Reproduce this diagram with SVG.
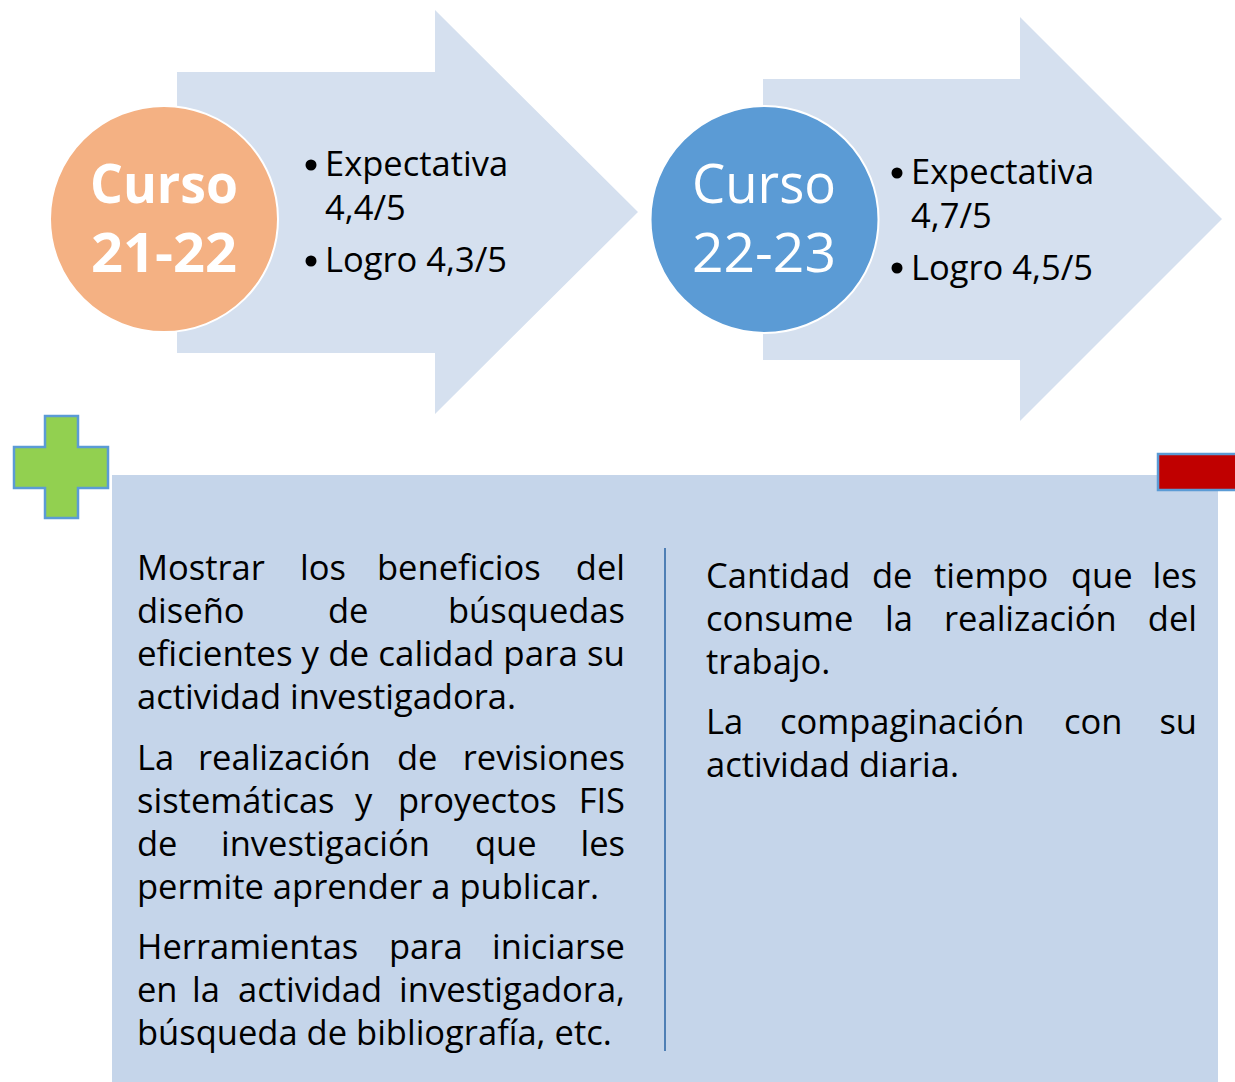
<svg xmlns="http://www.w3.org/2000/svg" width="1235" height="1082" viewBox="0 0 1235 1082">
<style>
.arrow{fill:#D5E0EF;}
.t{font-family:"Open Sans","Noto Sans",sans-serif;font-size:34.5px;fill:#000;}
.e{text-anchor:end;}
.c1{font-family:"Open Sans","Noto Sans",sans-serif;font-size:54px;font-weight:bold;fill:#fff;}
.c2{font-family:"Open Sans","Noto Sans",sans-serif;font-size:54px;fill:#fff;}
</style>
<rect width="1235" height="1082" fill="#fff"/>
<g id="arrow1">
<polygon class="arrow" points="177,72 435,72 435,10 638,212 435,414 435,353 177,353"/>
<ellipse cx="164" cy="219" rx="114" ry="113" fill="#F4B183" stroke="#fff" stroke-width="2"/>
<text class="c1" x="164" y="203" text-anchor="middle" textLength="148" lengthAdjust="spacingAndGlyphs">Curso</text>
<text class="c1" x="164" y="272" text-anchor="middle" textLength="146" lengthAdjust="spacingAndGlyphs">21-22</text>
<circle cx="311" cy="165" r="5.5"/>
<text class="t" x="325" y="176">Expectativa</text>
<text class="t" x="325" y="220">4,4/5</text>
<circle cx="311" cy="261" r="5.5"/>
<text class="t" x="325" y="272">Logro 4,3/5</text>
</g>
<g id="arrow2">
<polygon class="arrow" points="763,79 1020,79 1020,17 1222,219 1020,421 1020,360 763,360"/>
<ellipse cx="764.5" cy="219.5" rx="114" ry="113.5" fill="#5B9BD5" stroke="#fff" stroke-width="2"/>
<text class="c2" x="764" y="203" text-anchor="middle" textLength="144" lengthAdjust="spacingAndGlyphs">Curso</text>
<text class="c2" x="764" y="272" text-anchor="middle" textLength="144" lengthAdjust="spacingAndGlyphs">22-23</text>
<circle cx="897" cy="173" r="5.5"/>
<text class="t" x="911" y="184">Expectativa</text>
<text class="t" x="911" y="228">4,7/5</text>
<circle cx="897" cy="268" r="5.5"/>
<text class="t" x="911" y="280">Logro 4,5/5</text>
</g>
<g id="panel">
<rect x="112" y="475" width="1106" height="607" fill="#C5D5EA"/>
</g>
<g id="plus">
<polygon points="45,416 78,416 78,447 108,447 108,488 78,488 78,518 45,518 45,488 14,488 14,447 45,447" fill="#92D050" stroke="#5B9BD5" stroke-width="2.5"/>
</g>
<g id="minus">
<rect x="1158" y="454" width="80" height="36" fill="#C00000" stroke="#5B9BD5" stroke-width="2.5"/>
</g>
<g id="connectors">
<line x1="665" y1="548" x2="665" y2="1051" stroke="#4F7FB5" stroke-width="2"/>
</g>
<g id="pros">
<text class="t" y="580"><tspan x="137">Mostrar</tspan><tspan x="300">los</tspan><tspan x="377">beneficios</tspan><tspan x="625" class="e">del</tspan></text>
<text class="t" y="623"><tspan x="137">diseño</tspan><tspan x="328">de</tspan><tspan x="625" class="e">búsquedas</tspan></text>
<text class="t" x="137" y="666" textLength="488" lengthAdjust="spacingAndGlyphs">eficientes y de calidad para su</text>
<text class="t" x="137" y="709">actividad investigadora.</text>
<text class="t" y="770"><tspan x="137">La</tspan><tspan x="198">realización</tspan><tspan x="397">de</tspan><tspan x="625" class="e">revisiones</tspan></text>
<text class="t" y="813"><tspan x="137">sistemáticas</tspan><tspan x="355">y</tspan><tspan x="398">proyectos</tspan><tspan x="625" class="e">FIS</tspan></text>
<text class="t" y="856"><tspan x="137">de</tspan><tspan x="221">investigación</tspan><tspan x="475">que</tspan><tspan x="625" class="e">les</tspan></text>
<text class="t" x="137" y="899">permite aprender a publicar.</text>
<text class="t" y="959"><tspan x="137">Herramientas</tspan><tspan x="389">para</tspan><tspan x="625" class="e">iniciarse</tspan></text>
<text class="t" y="1002"><tspan x="137">en</tspan><tspan x="192">la</tspan><tspan x="238">actividad</tspan><tspan x="625" class="e">investigadora,</tspan></text>
<text class="t" x="137" y="1045">búsqueda de bibliografía, etc.</text>
</g>
<g id="cons">
<text class="t" y="588"><tspan x="706">Cantidad</tspan><tspan x="872">de</tspan><tspan x="934">tiempo</tspan><tspan x="1071">que</tspan><tspan x="1197" class="e">les</tspan></text>
<text class="t" y="631"><tspan x="706">consume</tspan><tspan x="885">la</tspan><tspan x="944">realización</tspan><tspan x="1197" class="e">del</tspan></text>
<text class="t" x="706" y="674">trabajo.</text>
<text class="t" y="734"><tspan x="706">La</tspan><tspan x="780">compaginación</tspan><tspan x="1064">con</tspan><tspan x="1197" class="e">su</tspan></text>
<text class="t" x="706" y="777">actividad diaria.</text>
</g>
</svg>
